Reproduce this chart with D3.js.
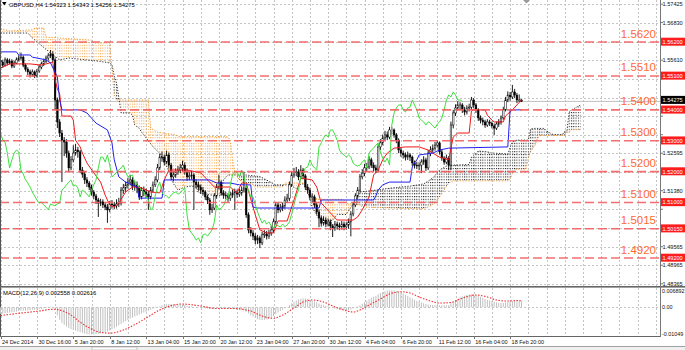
<!DOCTYPE html>
<html>
<head>
<meta charset="utf-8">
<script src="https://cdn.jsdelivr.net/npm/d3@7"></script>
<style>
html, body { margin: 0; padding: 0; background: #fff; }
svg { display: block; font-family: "Liberation Sans", Arial, sans-serif; }
</style>
</head>
<body>
<svg id="chart" width="685" height="350"></svg>
<script>
// GBPUSD H4 with Ichimoku, MACD sub-window and horizontal levels

// ---- candles (one per H4 bar), open = previous close ----
var firstOpen = 1.5560;
var closes = [
1.5555,1.5545,1.5562,1.5552,1.5558,1.5542,1.5552,1.5562,1.5568,1.5571,
1.5545,1.5532,1.5523,1.5516,1.5523,1.5510,1.5526,1.5539,1.5549,1.5558,
1.5568,1.5575,1.5581,1.5562,1.5432,1.5361,1.5325,1.5302,1.5296,1.5260,
1.5212,1.5238,1.5260,1.5270,1.5264,1.5205,1.5192,1.5173,1.5163,1.5150,
1.5134,1.5121,1.5108,1.5098,1.5102,1.5092,1.5085,1.5076,1.5095,1.5092,
1.5089,1.5095,1.5098,1.5140,1.5147,1.5157,1.5166,1.5173,1.5153,1.5157,
1.5147,1.5118,1.5140,1.5134,1.5127,1.5118,1.5140,1.5157,1.5173,1.5212,
1.5247,1.5247,1.5231,1.5254,1.5221,1.5183,1.5189,1.5199,1.5205,1.5212,
1.5221,1.5199,1.5183,1.5186,1.5189,1.5166,1.5157,1.5150,1.5140,1.5134,
1.5118,1.5108,1.5076,1.5082,1.5121,1.5150,1.5166,1.5131,1.5124,1.5121,
1.5114,1.5124,1.5131,1.5134,1.5127,1.5131,1.5140,1.5147,1.5060,1.5011,
1.5001,1.4991,1.4978,1.4985,1.4969,1.4995,1.4998,1.4991,1.5001,1.5011,
1.5037,1.5092,1.5076,1.5082,1.5089,1.5108,1.5114,1.5157,1.5189,1.5199,
1.5199,1.5183,1.5205,1.5186,1.5150,1.5140,1.5118,1.5118,1.5092,1.5069,
1.5050,1.5033,1.5043,1.5030,1.5037,1.5024,1.5017,1.5030,1.5024,1.5021,
1.5030,1.5021,1.5027,1.5037,1.5063,1.5092,1.5121,1.5140,1.5183,1.5195,
1.5212,1.5215,1.5238,1.5221,1.5212,1.5205,1.5280,1.5293,1.5309,1.5319,
1.5312,1.5335,1.5335,1.5319,1.5302,1.5270,1.5260,1.5254,1.5247,1.5254,
1.5247,1.5228,1.5221,1.5218,1.5221,1.5231,1.5238,1.5212,1.5260,1.5270,
1.5276,1.5286,1.5293,1.5264,1.5244,1.5231,1.5244,1.5221,1.5351,1.5390,
1.5406,1.5416,1.5416,1.5400,1.5393,1.5406,1.5409,1.5432,1.5416,1.5400,
1.5374,1.5367,1.5361,1.5351,1.5361,1.5357,1.5348,1.5341,1.5354,1.5361,
1.5374,1.5400,1.5432,1.5448,1.5442,1.5458,1.5448,1.5432,1.54323,1.54275
];
var highs = [
1.5572,1.5563,1.5570,1.5568,1.5566,1.5564,1.5560,1.5570,1.5577,1.5586,
1.5576,1.5550,1.5538,1.5530,1.5531,1.5528,1.5533,1.5547,1.5556,1.5566,
1.5576,1.5584,1.5594,1.5590,1.5570,1.5440,1.5370,1.5335,1.5312,1.5305,
1.5268,1.5250,1.5285,1.5290,1.5280,1.5270,1.5215,1.5200,1.5182,1.5170,
1.5158,1.5140,1.5128,1.5115,1.5112,1.5110,1.5100,1.5095,1.5105,1.5108,
1.5102,1.5110,1.5115,1.5150,1.5160,1.5168,1.5180,1.5190,1.5182,1.5170,
1.5168,1.5155,1.5150,1.5152,1.5145,1.5138,1.5150,1.5168,1.5185,1.5225,
1.5258,1.5265,1.5255,1.5268,1.5262,1.5228,1.5200,1.5210,1.5218,1.5225,
1.5235,1.5230,1.5210,1.5200,1.5203,1.5195,1.5175,1.5168,1.5158,1.5150,
1.5140,1.5125,1.5115,1.5095,1.5130,1.5160,1.5190,1.5172,1.5140,1.5135,
1.5130,1.5135,1.5142,1.5145,1.5142,1.5145,1.5152,1.5200,1.5155,1.5068,
1.5020,1.5010,1.5000,1.4995,1.4992,1.5005,1.5010,1.5008,1.5012,1.5025,
1.5048,1.5102,1.5100,1.5095,1.5100,1.5120,1.5128,1.5168,1.5200,1.5212,
1.5215,1.5208,1.5221,1.5212,1.5192,1.5160,1.5148,1.5130,1.5125,1.5100,
1.5078,1.5058,1.5055,1.5052,1.5048,1.5045,1.5030,1.5040,1.5038,1.5035,
1.5040,1.5038,1.5036,1.5048,1.5072,1.5102,1.5130,1.5150,1.5192,1.5208,
1.5225,1.5228,1.5250,1.5245,1.5230,1.5222,1.5290,1.5305,1.5320,1.5332,
1.5330,1.5345,1.5345,1.5340,1.5325,1.5308,1.5278,1.5268,1.5262,1.5265,
1.5260,1.5252,1.5236,1.5232,1.5230,1.5240,1.5250,1.5245,1.5270,1.5282,
1.5288,1.5296,1.5302,1.5298,1.5270,1.5250,1.5255,1.5250,1.5362,1.5400,
1.5418,1.5428,1.5425,1.5422,1.5410,1.5415,1.5420,1.5442,1.5438,1.5422,
1.5405,1.5382,1.5375,1.5368,1.5370,1.5368,1.5362,1.5356,1.5362,1.5370,
1.5382,1.5410,1.5442,1.5460,1.5458,1.5481,1.5468,1.5455,1.5450,1.54343
];
var lows = [
1.5546,1.5536,1.5540,1.5544,1.5547,1.5535,1.5536,1.5548,1.5557,1.5562,
1.5538,1.5524,1.5513,1.5505,1.5508,1.5503,1.5505,1.5520,1.5532,1.5542,
1.5552,1.5560,1.5568,1.5555,1.5400,1.5341,1.5312,1.5166,1.5250,1.5245,
1.5200,1.5205,1.5230,1.5252,1.5245,1.5195,1.5180,1.5160,1.5150,1.5140,
1.5122,1.5110,1.5095,1.5053,1.5088,1.5082,1.5075,1.5034,1.5068,1.5080,
1.5078,1.5080,1.5085,1.5090,1.5128,1.5135,1.5145,1.5155,1.5140,1.5138,
1.5130,1.5108,1.5110,1.5120,1.5115,1.5076,1.5110,1.5132,1.5150,1.5165,
1.5205,1.5232,1.5220,1.5225,1.5210,1.5172,1.5168,1.5180,1.5190,1.5195,
1.5200,1.5190,1.5170,1.5172,1.5175,1.5076,1.5145,1.5138,1.5128,1.5122,
1.5108,1.5095,1.5060,1.5066,1.5075,1.5112,1.5142,1.5122,1.5112,1.5110,
1.5102,1.5105,1.5115,1.5076,1.5115,1.5118,1.5122,1.5132,1.5050,1.5000,
1.4990,1.4978,1.4965,1.4965,1.4952,1.4962,1.4985,1.4980,1.4982,1.4992,
1.5002,1.5030,1.5065,1.5068,1.5072,1.5080,1.5098,1.5105,1.5150,1.5180,
1.5185,1.5172,1.5175,1.5175,1.5140,1.5128,1.5108,1.5100,1.5082,1.5060,
1.5020,1.5022,1.5025,1.5020,1.5022,1.5010,1.4988,1.5008,1.5012,1.5010,
1.5012,1.5010,1.5012,1.5015,1.4990,1.5055,1.5085,1.5112,1.5132,1.5175,
1.5185,1.5200,1.5208,1.5212,1.5200,1.5195,1.5198,1.5270,1.5285,1.5300,
1.5302,1.5305,1.5320,1.5310,1.5292,1.5260,1.5248,1.5242,1.5236,1.5238,
1.5234,1.5218,1.5210,1.5208,1.5205,1.5195,1.5222,1.5202,1.5205,1.5250,
1.5262,1.5268,1.5278,1.5255,1.5235,1.5222,1.5224,1.5205,1.5205,1.5340,
1.5380,1.5398,1.5400,1.5390,1.5382,1.5385,1.5395,1.5400,1.5405,1.5390,
1.5364,1.5356,1.5350,1.5342,1.5345,1.5348,1.5340,1.5318,1.5335,1.5345,
1.5352,1.5368,1.5395,1.5425,1.5430,1.5435,1.5438,1.5422,1.5425,1.54256
];

// ---- Ichimoku lines: [bar, price] ----
var tenkan = [[0,1.5536],[4,1.5549],[13,1.5549],[18,1.5545],[23,1.5555],[24,1.5497],[25,1.5468],[26,1.5452],
[27,1.5380],[31,1.5380],[32,1.5367],[33,1.5302],[35,1.5280],[36,1.5260],[38,1.5228],[41,1.5196],[44,1.5166],
[46,1.5124],[48,1.5092],[50,1.5085],[52,1.5098],[55,1.5134],[58,1.5150],[61,1.5150],[66,1.5134],[70,1.5131],
[72,1.5173],[74,1.5205],[82,1.5205],[88,1.5196],[94,1.5150],[101,1.5150],[104,1.5131],[106,1.5163],[108,1.5163],
[111,1.5085],[114,1.5011],[117,1.5001],[120,1.5001],[122,1.5040],[126,1.5040],[129,1.5108],[132,1.5179],
[137,1.5173],[139,1.5150],[141,1.5098],[145,1.5066],[148,1.5043],[155,1.5043],[157,1.5053],[159,1.5076],
[162,1.5118],[164,1.5189],[166,1.5205],[168,1.5238],[170,1.5260],[173,1.5276],[178,1.5280],[184,1.5280],
[188,1.5270],[190,1.5260],[193,1.5247],[197,1.5238],[198,1.5276],[199,1.5312],[201,1.5325],[206,1.5325],
[207,1.5396],[208,1.5400],[213,1.5400],[214,1.5383],[216,1.5367],[217,1.5361],[221,1.5361],[222,1.5380],
[223,1.5387],[225,1.5400],[227,1.5416],[229,1.5432]];
var kijun = [[0,1.5588],[7,1.5588],[8,1.5578],[13,1.5578],[14,1.5571],[20,1.5562],[22,1.5552],[25,1.5507],
[26,1.5432],[27,1.5400],[35,1.5400],[38,1.5390],[42,1.5357],[47,1.5335],[49,1.5293],[50,1.5238],[52,1.5183],
[55,1.5166],[60,1.5150],[61,1.5114],[71,1.5114],[72,1.5173],[92,1.5173],[95,1.5163],[101,1.5163],[105,1.5157],
[110,1.5157],[111,1.5085],[113,1.5082],[140,1.5082],[141,1.5108],[164,1.5108],[165,1.5121],[166,1.5140],
[168,1.5157],[171,1.5166],[180,1.5166],[181,1.5215],[182,1.5228],[183,1.5238],[184,1.5254],[190,1.5260],
[193,1.5270],[197,1.5276],[223,1.5280],[224,1.5400],[229,1.5400]];
var spanA = [[0,1.5649],[12,1.5649],[14,1.5633],[22,1.5584],[26,1.5562],[30,1.5568],[44,1.5557],[48,1.5552],
[49,1.5547],[50,1.5510],[51,1.5487],[52,1.5442],[53,1.5390],[57,1.5390],[58,1.5383],[59,1.5351],[61,1.5340],
[62,1.5328],[64,1.5309],[67,1.5281],[70,1.5259],[72,1.5233],[74,1.5202],[76,1.5161],[78,1.5140],[81,1.5150],
[84,1.5153],[86,1.5150],[87,1.5132],[92,1.5124],[97,1.5123],[98,1.5173],[100,1.5189],[108,1.5189],[114,1.5184],
[120,1.5161],[121,1.5157],[127,1.5157],[130,1.5145],[132,1.5160],[134,1.5160],[137,1.5085],[139,1.5059],
[140,1.5046],[143,1.5042],[146,1.5042],[148,1.5061],[152,1.5061],[155,1.5095],[158,1.5134],[165,1.5140],
[172,1.5147],[180,1.5153],[186,1.5160],[190,1.5179],[193,1.5205],[196,1.5218],[199,1.5221],[206,1.5223],
[207,1.5247],[208,1.5254],[209,1.5259],[210,1.5267],[214,1.5264],[216,1.5260],[219,1.5259],[223,1.5257],
[224,1.5278],[225,1.5296],[227,1.5302],[232,1.5302],[233,1.5338],[234,1.5340],[239,1.5340],[240,1.5332],
[242,1.5323],[243,1.5320],[247,1.5320],[248,1.5330],[249,1.5333],[250,1.5395],[251,1.5400],[253,1.5408],
[255,1.5416]];
var spanB = [[0,1.5662],[4,1.5656],[14,1.5659],[15,1.5665],[19,1.5665],[20,1.5636],[40,1.5626],[41,1.5617],
[48,1.5617],[49,1.5529],[50,1.5448],[51,1.5432],[65,1.5432],[66,1.5341],[69,1.5328],[77,1.5319],[78,1.5314],
[99,1.5314],[100,1.5312],[101,1.5302],[102,1.5238],[103,1.5202],[104,1.5184],[105,1.5173],[106,1.5170],
[107,1.5161],[110,1.5161],[111,1.5157],[112,1.5150],[124,1.5150],[125,1.5163],[133,1.5163],[134,1.5160],
[135,1.5132],[136,1.5127],[137,1.5121],[138,1.5114],[140,1.5110],[150,1.5110],[151,1.5108],[152,1.5097],
[158,1.5092],[159,1.5085],[185,1.5079],[188,1.5085],[191,1.5098],[193,1.5118],[195,1.5140],[197,1.5163],
[199,1.5170],[223,1.5170],[224,1.5176],[225,1.5194],[226,1.5204],[227,1.5208],[231,1.5208],[232,1.5242],
[233,1.5264],[234,1.5276],[235,1.5286],[236,1.5307],[237,1.5317],[248,1.5317],[249,1.5327],[250,1.5327],
[251,1.5336],[255,1.5336]];
var chikouShift = 26;

// ---- MACD(12,26,9) ----
var macdMain = [
-0.0026,-0.0025,-0.0024,-0.0022,-0.0021,-0.0020,-0.0019,-0.0017,-0.0015,-0.0013,
-0.0013,-0.0013,-0.0012,-0.0011,-0.0010,-0.0010,-0.0009,-0.0007,-0.0006,-0.0004,
-0.0002,0.0000,0.0002,0.0001,-0.0010,-0.0032,-0.0050,-0.0062,-0.0070,-0.0077,
-0.0082,-0.0087,-0.0090,-0.0093,-0.0096,-0.0099,-0.0102,-0.0105,-0.0107,-0.0108,
-0.0108,-0.0108,-0.0107,-0.0106,-0.0104,-0.0102,-0.0099,-0.0096,-0.0092,-0.0088,
-0.0084,-0.0078,-0.0072,-0.0066,-0.0060,-0.0055,-0.0050,-0.0045,-0.0041,-0.0037,
-0.0033,-0.0029,-0.0025,-0.0021,-0.0018,-0.0014,-0.0010,-0.0006,-0.0003,0.0000,
0.0004,0.0008,0.0010,0.0012,0.0013,0.0013,0.0012,0.0012,0.0011,0.0010,
0.0010,0.0009,0.0007,0.0005,0.0003,0.0001,0.0000,-0.0001,-0.0002,-0.0003,
-0.0004,-0.0005,-0.0006,-0.0006,-0.0005,-0.0004,-0.0003,-0.0003,-0.0004,-0.0004,
-0.0005,-0.0005,-0.0005,-0.0006,-0.0008,-0.0010,-0.0012,-0.0014,-0.0018,-0.0025,
-0.0032,-0.0038,-0.0043,-0.0047,-0.0050,-0.0051,-0.0050,-0.0048,-0.0045,-0.0041,
-0.0035,-0.0027,-0.0021,-0.0015,-0.0010,-0.0004,0.0002,0.0009,0.0016,0.0022,
0.0027,0.0031,0.0034,0.0035,0.0035,0.0033,0.0030,0.0027,0.0024,0.0020,
0.0015,0.0011,0.0008,0.0005,0.0003,0.0001,-0.0002,-0.0005,-0.0008,-0.0010,
-0.0011,-0.0012,-0.0012,-0.0011,-0.0009,-0.0005,-0.0001,0.0003,0.0008,0.0014,
0.0020,0.0026,0.0032,0.0038,0.0042,0.0046,0.0052,0.0057,0.0061,0.0064,
0.0066,0.0067,0.0068,0.0067,0.0065,0.0062,0.0059,0.0055,0.0050,0.0045,
0.0040,0.0035,0.0030,0.0026,0.0022,0.0019,0.0016,0.0013,0.0011,0.0010,
0.0009,0.0009,0.0009,0.0008,0.0008,0.0008,0.0008,0.0009,0.0016,0.0022,
0.0028,0.0034,0.0039,0.0043,0.0046,0.0049,0.0051,0.0052,0.0051,0.0049,
0.0046,0.0042,0.0038,0.0034,0.0030,0.0027,0.0025,0.0022,0.0020,0.0018,
0.0017,0.0017,0.0019,0.0021,0.0023,0.0025,0.0026,0.0026,0.0026,0.002558
];
var macdSignal = [[0,-0.0033],[9,-0.0023],[17,-0.0015],[23,-0.0008],[26,-0.0011],[31,-0.0031],[35,-0.0059],
[39,-0.0082],[44,-0.0100],[48,-0.0103],[53,-0.0094],[58,-0.0074],[64,-0.0043],[70,-0.0011],[76,0.0009],
[80,0.0013],[88,0.0005],[95,-0.0005],[102,-0.0005],[110,-0.0015],[115,-0.0035],[120,-0.0044],[124,-0.0031],
[129,-0.0003],[133,0.0021],[137,0.0029],[142,0.0021],[146,0.0005],[151,-0.0011],[155,-0.0019],[158,-0.0011],
[162,0.0009],[167,0.0033],[171,0.0053],[176,0.0062],[180,0.0057],[184,0.0041],[189,0.0025],[193,0.0017],
[198,0.0019],[202,0.0033],[206,0.0045],[209,0.0049],[214,0.0041],[218,0.0029],[223,0.0025],[227,0.0027],
[229,0.002616]];

// ---- axes and levels ----
var dateLabels = ["24 Dec 2014","30 Dec 16:00","5 Jan 20:00","8 Jan 12:00","13 Jan 04:00","15 Jan 20:00",
  "20 Jan 12:00","23 Jan 04:00","27 Jan 20:00","30 Jan 12:00","4 Feb 04:00","6 Feb 20:00","11 Feb 12:00",
  "16 Feb 04:00","18 Feb 20:00"];
var barsPerLabel = 16;
var priceTicks = [1.57425,1.56830,1.56215,1.55610,1.55010,1.54395,1.53795,1.53195,1.52595,1.51990,
  1.51380,1.50780,1.50170,1.49565,1.48965,1.48365];
var levels = [1.5620,1.5510,1.5400,1.5300,1.5200,1.5100,1.5015,1.4920];
var lastPrice = 1.54275;
var macdTicks = [0.006892, 0, -0.01049];
var macdTickText = ["0.006892","0.00","-0.01049"];
var header = "GBPUSD,H4  1.54323 1.54343 1.54256 1.54275";
var macdHeader = "MACD(12,26,9) 0.002558 0.002616";

// ---- layout ----
var plotRight = 660, mainBottom = 286, macdTop = 288, macdBottom = 336;
var svg = d3.select("#chart");

var x = d3.scaleLinear().domain([0, 224]).range([0.5, 510.1]);
var y = d3.scaleLinear().domain([1.4920, 1.5620]).range([258, 42]);
var ym = d3.scaleLinear().domain([-0.01049, 0.006892]).range([333.6, 290]);
var step = x(1) - x(0);

var defs = svg.append("defs");
defs.append("clipPath").attr("id", "clipMain").append("rect")
  .attr("x", 0).attr("y", 0).attr("width", plotRight).attr("height", mainBottom);
defs.append("clipPath").attr("id", "clipMacd").append("rect")
  .attr("x", 0).attr("y", macdTop).attr("width", plotRight).attr("height", macdBottom - macdTop);

// dotted hatch patterns for the kumo (one dotted column per bar)
function hatch(id, color) {
  var p = defs.append("pattern").attr("id", id).attr("patternUnits", "userSpaceOnUse")
    .attr("x", x(0) - 0.5).attr("y", 0).attr("width", step).attr("height", 2.8);
  p.append("rect").attr("width", 1).attr("height", 1.1).attr("fill", color);
}
hatch("hatchOrange", "#f8a545");
hatch("hatchBlack", "#1a1a1a");

var bx = function(d) { return x(d[0]); };
var aboveA = d3.area().x(bx).y0(0).y1(function(d) { return y(d[1]); });
var belowA = d3.area().x(bx).y0(mainBottom).y1(function(d) { return y(d[1]); });
defs.append("clipPath").attr("id", "clipAboveA").append("path").attr("d", aboveA(spanA));
defs.append("clipPath").attr("id", "clipBelowA").append("path").attr("d", belowA(spanA));

// background grid
var grid = svg.append("g").attr("stroke", "#c4c4c4").attr("stroke-dasharray", "2,2")
  .attr("shape-rendering", "crispEdges");
grid.selectAll(".hg").data(priceTicks).enter().append("line")
  .attr("x1", 0).attr("x2", plotRight)
  .attr("y1", function(d) { return Math.round(y(d)) + 0.5; })
  .attr("y2", function(d) { return Math.round(y(d)) + 0.5; });
var vBars = d3.range(0, 292, 8);
grid.selectAll(".vg").data(vBars).enter().append("line")
  .attr("x1", function(d) { return Math.round(x(d)) + 0.5; })
  .attr("x2", function(d) { return Math.round(x(d)) + 0.5; })
  .attr("y1", 0).attr("y2", macdBottom);
grid.append("line").attr("x1", 0).attr("x2", plotRight)
  .attr("y1", Math.round(ym(0)) + 0.5).attr("y2", Math.round(ym(0)) + 0.5);

var main = svg.append("g").attr("clip-path", "url(#clipMain)");

// bid line
main.append("line").attr("x1", 0).attr("x2", plotRight)
  .attr("y1", y(lastPrice)).attr("y2", y(lastPrice))
  .attr("stroke", "#c0c0c0").attr("stroke-width", 1);

// kumo: orange where span B is above span A, dark where span A is above
main.append("path")
  .attr("d", d3.area().x(bx).y0(mainBottom).y1(function(d) { return y(d[1]); })(spanB))
  .attr("fill", "url(#hatchOrange)").attr("clip-path", "url(#clipAboveA)");
main.append("path")
  .attr("d", d3.area().x(bx).y0(0).y1(function(d) { return y(d[1]); })(spanB))
  .attr("fill", "url(#hatchBlack)").attr("clip-path", "url(#clipBelowA)");

var line = d3.line().x(bx).y(function(d) { return y(d[1]); });
main.append("path").attr("d", line(spanA)).attr("fill", "none")
  .attr("stroke", "#333").attr("stroke-width", 1).attr("stroke-dasharray", "1.2,1.6");
main.append("path").attr("d", line(spanB)).attr("fill", "none")
  .attr("stroke", "#f59a32").attr("stroke-width", 1).attr("stroke-dasharray", "1.2,1.6");

// candles
var candles = closes.map(function(c, i) {
  return { i: i, o: i === 0 ? firstOpen : closes[i - 1], h: highs[i], l: lows[i], c: c };
});
var cg = main.append("g");
cg.selectAll(".wick").data(candles).enter().append("line")
  .attr("x1", function(d) { return x(d.i); }).attr("x2", function(d) { return x(d.i); })
  .attr("y1", function(d) { return y(d.h); }).attr("y2", function(d) { return y(d.l); })
  .attr("stroke", "#000").attr("stroke-width", 0.9);
cg.selectAll(".body").data(candles).enter().append("rect")
  .attr("x", function(d) { return x(d.i) - 0.8; })
  .attr("width", 1.6)
  .attr("y", function(d) { return y(Math.max(d.o, d.c)); })
  .attr("height", function(d) { return Math.max(0.8, Math.abs(y(d.o) - y(d.c))); })
  .attr("fill", function(d) { return d.c >= d.o ? "#fff" : "#000"; })
  .attr("stroke", "#000").attr("stroke-width", 0.5);

// tenkan, kijun, chikou
main.append("path").attr("d", line(tenkan)).attr("fill", "none")
  .attr("stroke", "#f01818").attr("stroke-width", 1);
main.append("path").attr("d", line(kijun)).attr("fill", "none")
  .attr("stroke", "#2020f0").attr("stroke-width", 1);
var chikou = closes.slice(chikouShift).map(function(c, k) { return [k, c]; });
main.append("path").attr("d", line(chikou)).attr("fill", "none")
  .attr("stroke", "#3de03d").attr("stroke-width", 1);

// horizontal level lines with labels
main.selectAll(".lvl").data(levels).enter().append("line")
  .attr("x1", 0).attr("x2", plotRight)
  .attr("y1", function(d) { return y(d); }).attr("y2", function(d) { return y(d); })
  .attr("stroke", "#f25e5e").attr("stroke-opacity", 0.9).attr("stroke-width", 1.6)
  .attr("stroke-dasharray", "9,4");
svg.selectAll(".lvlText").data(levels).enter().append("text")
  .attr("x", 656).attr("y", function(d) { return y(d) - 4.5; })
  .attr("text-anchor", "end").attr("font-size", 11.5).attr("fill", "#ff6a33")
  .text(function(d) { return d.toFixed(4); });

// chart shift marker
svg.append("path").attr("d", "M523,0 L530,0 L526.5,3.5 Z").attr("fill", "#9a9a9a");

// header
svg.append("path").attr("d", "M2,2 L6.5,2 L4.25,5.5 Z").attr("fill", "#000");
svg.append("text").attr("x", 9).attr("y", 7).attr("font-size", 5.9).attr("fill", "#000").text(header);

// window frames
svg.append("line").attr("x1", 0.5).attr("x2", 0.5).attr("y1", 0).attr("y2", macdBottom)
  .attr("stroke", "#555").attr("stroke-width", 1);
svg.append("rect").attr("x", 0).attr("y", mainBottom).attr("width", 685).attr("height", 1.6).attr("fill", "#666");
svg.append("line").attr("x1", 0).attr("x2", plotRight + 0.5)
  .attr("y1", macdBottom + 0.5).attr("y2", macdBottom + 0.5).attr("stroke", "#666");
svg.append("line").attr("x1", plotRight + 0.5).attr("x2", plotRight + 0.5)
  .attr("y1", 0).attr("y2", macdBottom + 1).attr("stroke", "#777");

// price axis (tick labels that sit under a level box are hidden, as in the terminal)
var boxed = levels.concat([lastPrice]);
var freeTicks = priceTicks.filter(function(t) {
  return boxed.every(function(v) { return Math.abs(y(v) - y(t)) > 7; });
});
var ax = svg.append("g").attr("font-size", 5.6).attr("fill", "#111");
ax.selectAll(".pt").data(freeTicks).enter().append("text")
  .attr("x", 662.5).attr("y", function(d) { return y(d) + 2.1; })
  .text(function(d) { return d.toFixed(5); });
ax.selectAll(".ptick").data(priceTicks).enter().append("line")
  .attr("x1", plotRight).attr("x2", plotRight + 3)
  .attr("y1", function(d) { return y(d); }).attr("y2", function(d) { return y(d); })
  .attr("stroke", "#777");
levels.forEach(function(v) {
  svg.append("rect").attr("x", 661).attr("y", y(v) - 4.3).attr("width", 24).attr("height", 8)
    .attr("fill", "#ff1c1c");
  svg.append("text").attr("x", 662.5).attr("y", y(v) + 2).attr("font-size", 5.6).attr("fill", "#fff")
    .text(v.toFixed(5));
});
svg.append("rect").attr("x", 661).attr("y", y(lastPrice) - 5.5).attr("width", 24).attr("height", 8)
  .attr("fill", "#000");
svg.append("text").attr("x", 662.5).attr("y", y(lastPrice) + 0.8).attr("font-size", 5.6).attr("fill", "#fff")
  .text(lastPrice.toFixed(5));

// MACD window
var mg = svg.append("g").attr("clip-path", "url(#clipMacd)");
mg.selectAll(".hist").data(macdMain).enter().append("line")
  .attr("x1", function(d, i) { return x(i); }).attr("x2", function(d, i) { return x(i); })
  .attr("y1", ym(0)).attr("y2", function(d) { return ym(d); })
  .attr("stroke", "#c0c0c0").attr("stroke-width", 1);
mg.append("path")
  .attr("d", d3.line().x(bx).y(function(d) { return ym(d[1]); }).curve(d3.curveMonotoneX)(macdSignal))
  .attr("fill", "none").attr("stroke", "#f03030").attr("stroke-width", 1.1)
  .attr("stroke-dasharray", "1.5,1.5");
svg.append("text").attr("x", 3).attr("y", 294.5).attr("font-size", 5.9).attr("fill", "#000").text(macdHeader);
svg.selectAll(".mt").data(macdTicks).enter().append("text")
  .attr("x", 662).attr("y", function(d) { return Math.max(ym(d) + 2.1, 293); })
  .attr("font-size", 5.4).attr("fill", "#111")
  .text(function(d, i) { return macdTickText[i]; });

// time axis
var tg = svg.append("g");
tg.selectAll(".dl").data(dateLabels).enter().append("text")
  .attr("x", function(d, i) { return x(i * barsPerLabel) + 1.5; })
  .attr("y", 343.5).attr("font-size", 5.5).attr("fill", "#111")
  .text(function(d) { return d; });
tg.selectAll(".dt").data(dateLabels).enter().append("line")
  .attr("x1", function(d, i) { return Math.round(x(i * barsPerLabel)) + 0.5; })
  .attr("x2", function(d, i) { return Math.round(x(i * barsPerLabel)) + 0.5; })
  .attr("y1", macdBottom).attr("y2", macdBottom + 3).attr("stroke", "#777");

// bottom tab strip
svg.append("rect").attr("x", 0).attr("y", 346).attr("width", 685).attr("height", 4).attr("fill", "#f0f0f0");
svg.append("line").attr("x1", 0).attr("x2", 685).attr("y1", 346.5).attr("y2", 346.5).attr("stroke", "#a0a0a0");
svg.append("rect").attr("x", 92).attr("y", 347).attr("width", 45).attr("height", 3)
  .attr("fill", "#fff").attr("stroke", "#a0a0a0").attr("stroke-width", 0.6);
</script>
</body>
</html>
